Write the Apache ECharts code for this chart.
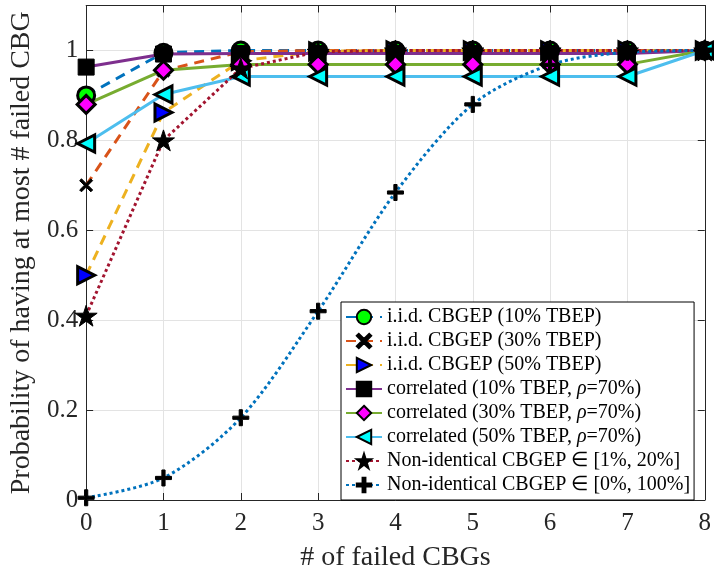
<!DOCTYPE html>
<html><head><meta charset="utf-8">
<script src="https://cdn.jsdelivr.net/npm/echarts@6/dist/echarts.min.js"></script>
<style>html,body{margin:0;padding:0;background:#fff}#c{width:714px;height:577px}</style>
</head><body><div id="c"></div>
<script>
const xCats = [0, 1, 2, 3, 4, 5, 6, 7, 8];
const yTicks = [0, 0.2, 0.4, 0.6, 0.8, 1];
const names = [
  'i.i.d. CBGEP (10% TBEP)',
  'i.i.d. CBGEP (30% TBEP)',
  'i.i.d. CBGEP (50% TBEP)',
  'correlated (10% TBEP, ρ=70%)',
  'correlated (30% TBEP, ρ=70%)',
  'correlated (50% TBEP, ρ=70%)',
  'Non-identical CBGEP ∈ [1%, 20%]',
  'Non-identical CBGEP ∈ [0%, 100%]'
];
const iid10  = [0.90, 0.995, 1, 1, 1, 1, 1, 1, 1];
const iid30  = [0.70, 0.955, 0.997, 1, 1, 1, 1, 1, 1];
const iid50  = [0.50, 0.862, 0.977, 0.998, 1, 1, 1, 1, 1];
const corr10 = [0.963, 0.992, 0.993, 0.993, 0.993, 0.993, 0.993, 0.993, 1];
const corr30 = [0.88, 0.956, 0.969, 0.969, 0.969, 0.969, 0.969, 0.969, 1];
const corr50 = [0.793, 0.902, 0.942, 0.942, 0.942, 0.942, 0.942, 0.942, 1];
const ni1_20  = [0.41, 0.80, 0.96, 0.997, 1, 1, 1, 1, 1];
const ni0_100 = [0.005, 0.049, 0.183, 0.42, 0.684, 0.88, 0.968, 0.996, 1];

const STAR = 'path://M0,-100 L22.45,-30.9 L95.1,-30.9 L36.3,11.8 L58.8,80.9 L0,38.2 L-58.8,80.9 L-36.3,11.8 L-95.1,-30.9 L-22.45,-30.9 Z';
const PLUS = 'path://M40,0 H60 V40 H100 V60 H60 V100 H40 V60 H0 V40 H40 Z';
const CROSS = 'path://M0,14 L14,0 L50,36 L86,0 L100,14 L64,50 L100,86 L86,100 L50,64 L14,100 L0,86 L36,50 Z';

function pairs(arr){ return arr.map((v,i)=>[xCats[i], v]); }
function mk(name, data, color, ltype, symbol, size, fill, rot, extra){
  return Object.assign({
    name, type:'line', data: pairs(data),
    lineStyle:{color, width:3, type:ltype, cap:'butt'},
    itemStyle:{color:fill, borderColor:'#000', borderWidth: (fill==='#000'?1:3)},
    color: color,
    symbol, symbolSize:size, symbolRotate: rot||0, symbolKeepAspect:true,
    showAllSymbol:true, animation:false, z: 2
  }, extra||{});
}
const dash=[10,7], dot=[3,3];
const series = [
  mk(names[0], iid10, '#0072BD', dash, 'circle', 17, '#00FF00'),
  mk(names[1], iid30, '#D95319', dash, CROSS, 13, '#000'),
  mk(names[2], iid50, '#EDB120', dash, 'triangle', 17, '#0000FF', -90),
  mk(names[3], corr10, '#7E2F8E', 'solid', 'rect', 16, '#000'),
  mk(names[4], corr30, '#77AC30', 'solid', 'diamond', 18, '#FF00FF'),
  mk(names[5], corr50, '#4DBEEE', 'solid', 'triangle', 17, '#00FFFF', 90),
  mk(names[6], ni1_20, '#A2142F', dot, STAR, 22, '#000'),
  mk(names[7], ni0_100, '#0072BD', dot, PLUS, 16, '#000', 0, {smooth:0.3})
];

const axisColor = '#262626';
const font = '"Liberation Serif", "Times New Roman", serif';
const chart = echarts.init(document.getElementById('c'), null, {renderer:'canvas'});
chart.setOption({
  animation:false,
  backgroundColor:'#fff',
  grid:{left:79, right:7, top:5.5, bottom:67, containLabel:false},
  xAxis:[{
    type:'value', min:0, max:8, interval:1,
    name:'# of failed CBGs', nameLocation:'middle', nameGap:44,
    nameTextStyle:{fontFamily:font, fontSize:28, color:axisColor},
    axisLine:{show:true, lineStyle:{color:axisColor, width:1}},
    axisTick:{show:true, inside:true, length:7, lineStyle:{color:axisColor}},
    axisLabel:{fontFamily:font, fontSize:25, color:axisColor, margin:11},
    splitLine:{show:true, lineStyle:{color:'#e3e3e3', width:1}}
  },{
    type:'value', min:0, max:8, interval:1, position:'top',
    axisLine:{show:true, onZero:false, lineStyle:{color:axisColor, width:1}},
    axisTick:{show:true, inside:true, length:7, lineStyle:{color:axisColor}},
    axisLabel:{show:false}, splitLine:{show:false}
  }],
  yAxis:[{
    type:'value', min:0, max:1.1, interval:0.2,
    name:'Probability of having at most # failed CBG', nameLocation:'middle', nameGap:44,
    nameTextStyle:{fontFamily:font, fontSize:28, color:axisColor},
    axisLine:{show:true, lineStyle:{color:axisColor, width:1}},
    axisTick:{show:true, inside:true, length:7, lineStyle:{color:axisColor}},
    axisLabel:{fontFamily:font, fontSize:25, color:axisColor, margin:8,
      formatter:v => (v>1.05 ? '' : String(+v.toFixed(1)))},
    splitLine:{show:true, lineStyle:{color:'#e3e3e3', width:1}}
  },{
    type:'value', min:0, max:1.1, interval:0.2, position:'right',
    axisLine:{show:true, onZero:false, lineStyle:{color:axisColor, width:1}},
    axisTick:{show:true, inside:true, length:7, lineStyle:{color:axisColor}},
    axisLabel:{show:false}, splitLine:{show:false}
  }],
  legend:{
    show:true, orient:'vertical', left:341, top:302,
    backgroundColor:'#fff', borderColor:'#000', borderWidth:1,
    padding:[5,4,5,4], itemGap:4, itemWidth:36, itemHeight:18,
    data:names,
    textStyle:{fontFamily:font, fontSize:20, lineHeight:18, color:'#000',
      rich:{i:{fontFamily:font, fontSize:20, lineHeight:18, fontStyle:'italic', color:'#000'}}},
    formatter: n => n.replace('ρ', '{i|ρ}')
  },
  series
});
</script></body></html>
